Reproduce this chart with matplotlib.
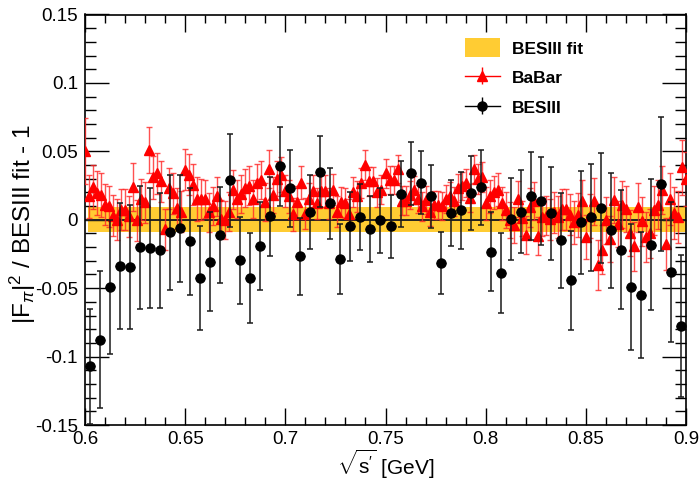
import numpy as np
import matplotlib
matplotlib.use("Agg")
import matplotlib.pyplot as plt
from matplotlib.patches import Patch
from matplotlib.ticker import MultipleLocator, FuncFormatter

plt.rcParams['font.family'] = ['Liberation Sans', 'DejaVu Sans']
plt.rcParams['mathtext.fontset'] = 'custom'
plt.rcParams['mathtext.rm'] = 'Liberation Sans'
plt.rcParams['mathtext.it'] = 'Liberation Sans:italic'
plt.rcParams['mathtext.bf'] = 'Liberation Sans:bold'

# ---------------- data ----------------
# BESIII points (sqrt(s') in GeV, ratio - 1, error)
bes_x0 = 0.6025
bes_step = 0.005
bes_y = [-0.107, -0.0876, -0.049, -0.034, -0.0345, -0.0202, -0.0207, -0.0224, -0.0092, -0.0063,
         -0.0158, -0.0426, -0.0307, -0.011, 0.0287, -0.0297, -0.0428, -0.019, 0.0024, 0.039,
         0.0229, -0.0268, 0.0056, 0.035, 0.0119, -0.0287, -0.0049, 0.0019, -0.0066, -0.0005,
         -0.0049, 0.0187, 0.034, 0.0272, 0.017, -0.0319, 0.0049, 0.0068, 0.0195, 0.0236,
         -0.0234, -0.039, 0.0005, 0.006, 0.0175, 0.0139, 0.0049, -0.0151, -0.0443, -0.0019,
         0.0019, 0.0085, -0.0078, -0.0219, -0.0494, -0.055, -0.0182, 0.0258, -0.0382, -0.0774]
bes_err = [0.042, 0.050, 0.049, 0.046, 0.045, 0.045, 0.044, 0.042, 0.042, 0.039,
           0.039, 0.038, 0.036, 0.035, 0.034, 0.032, 0.033, 0.032, 0.029, 0.029,
           0.028, 0.028, 0.027, 0.026, 0.026, 0.0255, 0.025, 0.024, 0.024, 0.024,
           0.023, 0.024, 0.023, 0.023, 0.023, 0.0226, 0.024, 0.028, 0.027, 0.0275,
           0.029, 0.029, 0.030, 0.030, 0.032, 0.032, 0.034, 0.035, 0.036, 0.0375,
           0.039, 0.040, 0.042, 0.0435, 0.046, 0.046, 0.048, 0.049, 0.051, 0.052]
bes_xerr = 0.0025

# BaBar points
babar_x0 = 0.600
babar_step = 0.002
babar_y = [0.050, 0.017, 0.024, 0.0195, 0.018, 0.011, 0.0097, 0.003, 0.000, 0.0073,
           0.0073, 0.0024, 0.024, -0.0005, 0.015, 0.0127, 0.051, 0.031, 0.034, 0.028,
           -0.0068, 0.023, 0.0195, 0.0085, 0.006, 0.0365, 0.033, 0.0255, 0.015, 0.015,
           0.015, 0.0054, 0.010, 0.017, 0.0005, 0.000, 0.006, 0.022, 0.015, 0.019,
           0.023, 0.025, 0.015, 0.027, 0.029, 0.013, 0.037, 0.018, 0.030, 0.033,
           0.021, 0.017, 0.004, 0.0127, 0.027, 0.0044, 0.015, 0.021, 0.012, 0.021,
           0.021, 0.012, 0.022, 0.006, 0.013, 0.012, 0.004, 0.020, 0.017, 0.027,
           0.040, 0.028, 0.028, 0.020, 0.022, 0.034, 0.029, 0.029, 0.037, 0.014,
           0.014, 0.018, 0.022, 0.015, 0.0097, 0.0146, 0.006, 0.011, 0.011, 0.010,
           0.015, 0.017, 0.0134, 0.023, 0.0245, 0.027, 0.016, 0.037, 0.030, 0.031,
           0.012, 0.017, 0.020, 0.022, 0.012, 0.007, 0.000, -0.004, 0.015, 0.001,
           -0.011, 0.009, 0.0135, -0.012, 0.002, 0.003, 0.0005, 0.0054, 0.002, 0.0078,
           0.0078, 0.0036, -0.002, 0.0036, 0.0134, -0.0127, 0.003, 0.0134, -0.033, -0.022,
           -0.0005, -0.014, 0.0146, -0.003, 0.011, 0.0078, -0.0097, -0.0195, 0.0092, -0.0012,
           -0.0127, -0.010, 0.007, 0.011, 0.022, -0.018, 0.015, 0.005, 0.002, 0.0384,
           0.0297]
babar_err = [0.024, 0.016, 0.016, 0.016, 0.016, 0.015, 0.015, 0.015, 0.015, 0.015,
             0.015, 0.015, 0.0175, 0.015, 0.015, 0.015, 0.017, 0.0155, 0.015, 0.015,
             0.015, 0.015, 0.015, 0.015, 0.015, 0.015, 0.015, 0.015, 0.016, 0.015,
             0.014, 0.014, 0.014, 0.014, 0.014, 0.014, 0.014, 0.014, 0.014, 0.014,
             0.014, 0.014, 0.014, 0.014, 0.014, 0.014, 0.0137, 0.013, 0.013, 0.013,
             0.012, 0.012, 0.012, 0.012, 0.012, 0.0115, 0.0115, 0.0115, 0.0115, 0.0115,
             0.0115, 0.0115, 0.0115, 0.0115, 0.011, 0.011, 0.011, 0.011, 0.011, 0.011,
             0.0107, 0.0107, 0.0107, 0.0105, 0.0105, 0.0105, 0.0103, 0.0103, 0.0103, 0.0103,
             0.0103, 0.0103, 0.0103, 0.0103, 0.0103, 0.0103, 0.0103, 0.0103, 0.0103, 0.0103,
             0.0103, 0.0103, 0.0103, 0.0103, 0.0103, 0.0103, 0.0103, 0.010, 0.011, 0.011,
             0.012, 0.012, 0.012, 0.012, 0.012, 0.013, 0.013, 0.013, 0.013, 0.013,
             0.014, 0.014, 0.014, 0.014, 0.014, 0.014, 0.015, 0.015, 0.015, 0.015,
             0.015, 0.015, 0.016, 0.016, 0.016, 0.016, 0.016, 0.017, 0.018, 0.018,
             0.017, 0.017, 0.017, 0.017, 0.017, 0.017, 0.017, 0.018, 0.018, 0.018,
             0.018, 0.018, 0.018, 0.018, 0.0175, 0.019, 0.019, 0.019, 0.019, 0.020,
             0.020]

# BESIII fit uncertainty band
band_x = [0.6015, 0.9]
band_half = 0.009

x_ticks_major = 0.05
y_ticks_major = 0.05

# ---------------- plot ----------------
bes_x = bes_x0 + bes_step * np.arange(len(bes_y))
babar_x = babar_x0 + babar_step * np.arange(len(babar_y))

fig = plt.figure(figsize=(7.0, 4.82), dpi=100)
ax = fig.add_axes([85/700, 1 - 425/482, (686 - 85)/700, (425 - 14.5)/482])

ax.fill_between(band_x, [-band_half]*2, [band_half]*2, color='#FFCC33', lw=0, zorder=1)
ax.axhline(0, color='#222222', lw=1.4, zorder=2)

ax.errorbar(babar_x, babar_y, yerr=babar_err, fmt='^', color='red', ms=6.5,
            ecolor=(1, 0.15, 0.15, 0.8), elinewidth=1.0, capsize=2.5, capthick=1.0,
            zorder=3)

ax.errorbar(bes_x, bes_y, xerr=bes_xerr, fmt='none', ecolor='black', elinewidth=1.0,
            capsize=0, zorder=4)
ax.errorbar(bes_x, bes_y, yerr=bes_err, fmt='o', color='black', ms=6.5,
            ecolor='#1a1a1a', elinewidth=1.1, capsize=2.5, capthick=1.1, zorder=5)

# legend proxies (empty errorbar containers)
h_babar = ax.errorbar([], [], yerr=[], fmt='-^', color='red', ms=6.5, lw=1.0,
                      elinewidth=1.0, capsize=0)
h_bes = ax.errorbar([], [], yerr=[], fmt='-o', color='black', ms=6.5, lw=1.0,
                    elinewidth=1.0, capsize=0)
h_fit = Patch(facecolor='#FFCC33', edgecolor='none')

ax.set_xlim(0.6, 0.9)
ax.set_ylim(-0.15, 0.15)

ax.xaxis.set_major_locator(MultipleLocator(x_ticks_major))
ax.xaxis.set_minor_locator(MultipleLocator(0.01))
ax.yaxis.set_major_locator(MultipleLocator(y_ticks_major))
ax.yaxis.set_minor_locator(MultipleLocator(0.01))
fmt = FuncFormatter(lambda v, p: '0' if abs(v) < 1e-9 else ('%g' % round(v, 3)))
ax.xaxis.set_major_formatter(fmt)
ax.yaxis.set_major_formatter(fmt)
ax.tick_params(axis='both', which='both', direction='in', top=True, right=True,
               labelsize=13.5, width=1.0, colors='black')
ax.tick_params(axis='x', which='major', length=12, pad=4)
ax.tick_params(axis='x', which='minor', length=6)
ax.tick_params(axis='y', which='major', length=17, pad=5)
ax.tick_params(axis='y', which='minor', length=8)
for s in ax.spines.values():
    s.set_linewidth(1.2)

ax.set_xlabel(r"$\sqrt{\mathrm{s}'}$ [GeV]", fontsize=15)
ax.xaxis.set_label_coords(0.5, -0.055)
ax.set_ylabel(r"$|\mathrm{F}_{\pi}|^{2}$ / BESIII fit - 1", fontsize=17.5)
ax.yaxis.set_label_coords(-(85 - 38) / 601, 0.49)

leg = ax.legend([h_fit, h_babar, h_bes], ['BESIII fit', 'BaBar', 'BESIII'],
                loc='upper left', bbox_to_anchor=((465 - 85)/601, 1 - (38 - 14.5)/410.5),
                frameon=False, prop={'weight': 'bold', 'size': 12.5},
                handlelength=2.0, handleheight=1.35, handletextpad=0.7, labelspacing=0.6,
                borderaxespad=0, borderpad=0)

fig.savefig('out.png', dpi=100)
